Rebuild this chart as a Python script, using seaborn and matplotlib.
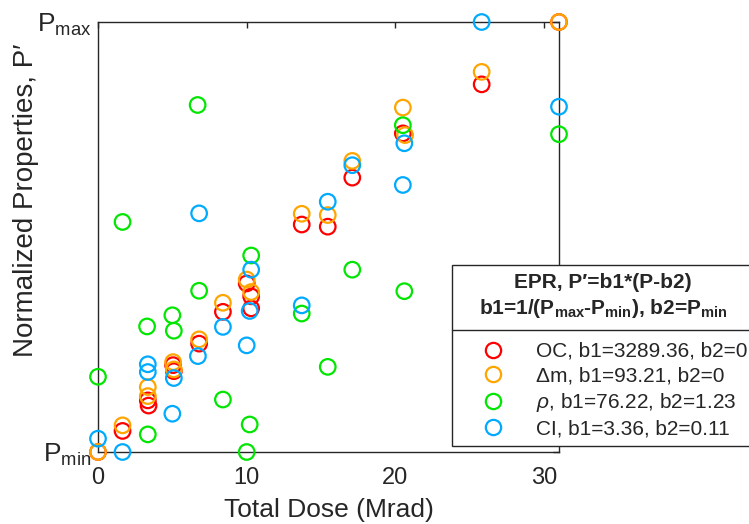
import numpy as np
import pandas as pd
import matplotlib
matplotlib.use("Agg")
import matplotlib.pyplot as plt
import seaborn as sns
from matplotlib.lines import Line2D
from matplotlib.font_manager import FontProperties

# ---------------- data ----------------
series_labels = ["OC, b1=3289.36, b2=0",
                 "\u0394m, b1=93.21, b2=0",
                 r"$\rho$, b1=76.22, b2=1.23",
                 "CI, b1=3.36, b2=0.11"]
series_colors = ["#FF0000", "#FFA500", "#00E600", "#00AAFF"]

oc_dose = [0, 1.65, 3.35, 3.4, 5.05, 5.1, 6.8, 8.4, 10.0, 10.3, 10.3, 13.7, 15.45, 17.1, 20.5, 25.8, 31.0]
oc_val = [0.0, 0.049, 0.120, 0.108, 0.202, 0.188, 0.252, 0.326, 0.392, 0.362, 0.334, 0.529, 0.524, 0.638, 0.741, 0.855, 1.0]

dm_dose = [0, 1.65, 3.35, 3.35, 5.05, 5.1, 6.8, 8.4, 10.0, 10.3, 13.7, 15.45, 17.1, 20.5, 20.65, 25.8, 31.0]
dm_val = [0.0, 0.062, 0.151, 0.130, 0.209, 0.192, 0.262, 0.347, 0.401, 0.372, 0.554, 0.551, 0.677, 0.801, 0.737, 0.884, 1.0]

rho_dose = [0, 1.65, 3.35, 3.3, 5.0, 5.1, 6.7, 6.8, 8.4, 10.0, 10.2, 10.3, 13.7, 15.45, 17.1, 20.5, 20.6, 31.0]
rho_val = [0.175, 0.535, 0.041, 0.292, 0.318, 0.282, 0.807, 0.375, 0.122, 0.0, 0.064, 0.457, 0.322, 0.198, 0.424, 0.760, 0.374, 0.739]

ci_dose = [0, 1.65, 3.35, 3.35, 5.1, 5.0, 6.8, 6.72, 8.4, 10.0, 10.3, 10.2, 13.7, 15.45, 17.1, 20.6, 20.5, 25.8, 31.0]
ci_val = [0.031, 0.0, 0.204, 0.186, 0.172, 0.089, 0.555, 0.223, 0.291, 0.248, 0.424, 0.328, 0.341, 0.582, 0.667, 0.718, 0.621, 1.0, 0.803]

x_ticks = [0, 10, 20, 30]
y_ticks = [0, 1]
y_ticklabels = [r"$\mathregular{P_{min}}$", r"$\mathregular{P_{max}}$"]

legend_title = ("EPR, P\u2032=b1*(P-b2)\n"
                r"b1=1/(P$_{\mathbf{max}}$-P$_{\mathbf{min}}$), b2=P$_{\mathbf{min}}$")

# ---------------- build long table ----------------
doses = [oc_dose, dm_dose, rho_dose, ci_dose]
vals = [oc_val, dm_val, rho_val, ci_val]
frames = []
for lab, d, v in zip(series_labels, doses, vals):
    frames.append(pd.DataFrame({"dose": d, "value": v, "series": lab}))
df = pd.concat(frames, ignore_index=True)

# ---------------- style ----------------
sns.set_style("white")
plt.rcParams["font.family"] = ["Liberation Sans", "DejaVu Sans"]
plt.rcParams["mathtext.fontset"] = "custom"
plt.rcParams["mathtext.rm"] = "Liberation Sans"
plt.rcParams["mathtext.it"] = "Liberation Sans:italic"
plt.rcParams["mathtext.bf"] = "Liberation Sans:bold"

W, H = 749, 524
fig = plt.figure(figsize=(W / 100, H / 100), dpi=100)
ax = fig.add_axes([98 / W, (H - 452) / H, (559 - 98) / W, (452 - 22) / H])

for lab, col in zip(series_labels, series_colors):
    sub = df[df["series"] == lab]
    sns.scatterplot(data=sub, x="dose", y="value", ax=ax, marker="o", s=125,
                    facecolor="none", edgecolor=col, linewidth=1.6,
                    clip_on=False, zorder=3, legend=False)

ax.set_xlim(0, 31)
ax.set_ylim(0, 1)
ax.set_xticks(x_ticks)
ax.set_yticks(y_ticks)
ax.set_yticklabels(y_ticklabels)
spine_col = "#262626"
for sp in ax.spines.values():
    sp.set_visible(True)
    sp.set_color(spine_col)
    sp.set_linewidth(1.0)
ax.tick_params(direction="in", length=4.5, width=1.0, color=spine_col,
               top=True, right=True, labelcolor="#262626")
ax.tick_params(axis="x", pad=11, labelsize=17)
ax.tick_params(axis="y", pad=5, labelsize=19)
ax.set_xlabel("Total Dose (Mrad)", fontsize=19, color="#262626", labelpad=6)
ax.set_ylabel("Normalized Properties, P\u2032", fontsize=20, color="#262626")
ax.yaxis.set_label_coords(-0.128, 0.585)

handles = [Line2D([], [], marker="o", ls="none", mfc="none", mec=c, ms=11, mew=1.6)
           for c in series_colors]
leg = ax.legend(handles, series_labels, title=legend_title,
                loc="upper left", bbox_to_anchor=(452 / W, (H - 265) / H),
                bbox_transform=fig.transFigure, borderaxespad=0,
                fontsize=15, handlelength=3.2, handletextpad=0.45,
                labelspacing=0.27, borderpad=0.36, fancybox=False,
                framealpha=1, edgecolor="#262626",
                title_fontproperties=FontProperties(family=["Liberation Sans", "DejaVu Sans"],
                                                    weight="bold", size=15))
leg.get_frame().set_linewidth(1.0)
leg.get_title().set_multialignment("center")
leg.get_title().set_linespacing(1.3)
leg.set_zorder(10)
try:
    leg._legend_box.sep = 16
except Exception:
    pass

fig.canvas.draw()
r = fig.canvas.get_renderer()
tb = leg.get_title().get_window_extent(r)
fb = leg.get_frame().get_window_extent(r)
t0 = leg.get_texts()[0].get_window_extent(r)
ysep = 0.5 * (tb.y0 + t0.y1) + 1
fig.add_artist(Line2D([fb.x0 / W, fb.x1 / W], [ysep / H, ysep / H],
                      transform=fig.transFigure, color="#262626", lw=1.0, zorder=11))

fig.savefig("out.png", dpi=100)
